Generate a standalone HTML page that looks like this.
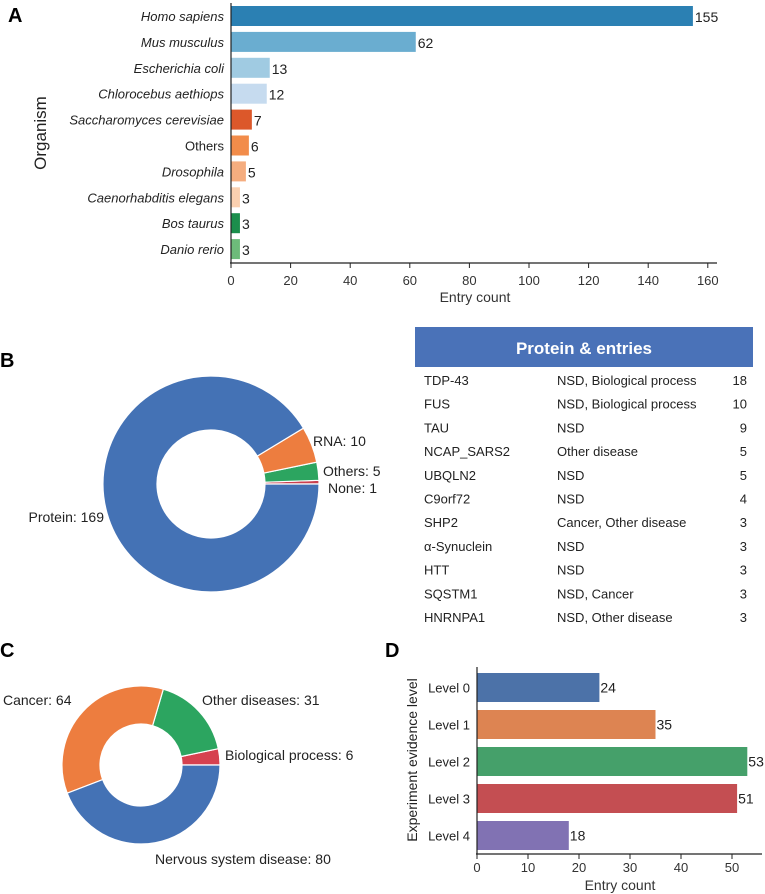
<!DOCTYPE html>
<html><head><meta charset="utf-8"><style>
body{margin:0;background:#fff;}
svg{display:block;font-family:"Liberation Sans",Arial,sans-serif;}
</style></head><body>
<svg id="s" width="765" height="894" viewBox="0 0 765 894" xmlns="http://www.w3.org/2000/svg">
<text x="8" y="22" font-size="20" font-weight="bold">A</text>
<text x="0" y="367" font-size="20" font-weight="bold">B</text>
<text x="0" y="657" font-size="20" font-weight="bold">C</text>
<text x="385" y="657" font-size="20" font-weight="bold">D</text>
<g id="ga"></g>
<g id="gb"></g>
<g id="gt"></g>
<g id="gc"></g>
<g id="gd"></g>
</svg>
<script>
const orgNames=["Homo sapiens","Mus musculus","Escherichia coli","Chlorocebus aethiops","Saccharomyces cerevisiae","Others","Drosophila","Caenorhabditis elegans","Bos taurus","Danio rerio"];
const orgValues=[155,62,13,12,7,6,5,3,3,3];
const orgTicks=[0,20,40,60,80,100,120,140,160];
const molNames=["None","Others","RNA","Protein"];
const molValues=[1,5,10,169];
const disNames=["Biological process","Other diseases","Cancer","Nervous system disease"];
const disValues=[6,31,64,80];
const tabNames=["TDP-43","FUS","TAU","NCAP_SARS2","UBQLN2","C9orf72","SHP2","α-Synuclein","HTT","SQSTM1","HNRNPA1"];
const tabDesc=["NSD, Biological process","NSD, Biological process","NSD","Other disease","NSD","NSD","Cancer, Other disease","NSD","NSD","NSD, Cancer","NSD, Other disease"];
const tabCounts=[18,10,9,5,5,4,3,3,3,3,3];
const levNames=["Level 0","Level 1","Level 2","Level 3","Level 4"];
const levValues=[24,35,53,51,18];
const levTicks=[0,10,20,30,40,50];

const NS="http://www.w3.org/2000/svg";
function mk(p,tag,a,txt){const e=document.createElementNS(NS,tag);for(const k in a)e.setAttribute(k,a[k]);if(txt!==undefined)e.textContent=txt;p.appendChild(e);return e;}

// Panel A
const ga=document.getElementById('ga');
const aCols=["#2b80b3","#6aadd0","#a0cbe2","#c6dbef","#dc582a","#f28c4a","#f5ad7f","#fbd0b0","#1b8e4c","#6dbb7a"];
const ax=v=>231+v*2.98, ay=i=>16+i*25.9;
orgNames.forEach((n,i)=>{
  const r=mk(ga,'rect',{x:ax(0),y:ay(i)-10,width:ax(orgValues[i])-ax(0),height:20,fill:aCols[i]});
  
  
  const t=mk(ga,'text',{x:ax(orgValues[i])+2,y:ay(i)+6,'font-size':14,fill:'#222'},orgValues[i]);
  
  
  const l=mk(ga,'text',{x:224,y:ay(i)+5,'font-size':13,'text-anchor':'end',fill:'#222','font-style':n==='Others'?'normal':'italic'},n);
  
  
});
mk(ga,'line',{x1:231,y1:3,x2:231,y2:263,stroke:'#222','stroke-width':1.2});
mk(ga,'line',{x1:230,y1:263,x2:717,y2:263,stroke:'#222','stroke-width':1.2});
orgTicks.forEach(v=>{
  mk(ga,'line',{x1:ax(v),y1:263,x2:ax(v),y2:268,stroke:'#222'});
  const t=mk(ga,'text',{x:ax(v),y:285,'font-size':13,'text-anchor':'middle',fill:'#333'},v);
  
  
});
let t=mk(ga,'text',{x:475,y:302,'font-size':14,'text-anchor':'middle',fill:'#333'},"Entry count");

t=mk(ga,'text',{x:0,y:0,'font-size':17,'text-anchor':'middle',fill:'#222',transform:'translate(46,133) rotate(-90)'},"Organism");


// donut helper
function donut(g,cx,cy,R,r,vals,cols){
  const tot=vals.reduce((a,b)=>a+b,0);let a0=0;
  vals.forEach((v,i)=>{
    const a1=a0+v/tot*2*Math.PI;
    const p=(rad,a)=>[cx+rad*Math.cos(a),cy-rad*Math.sin(a)];
    const [x1,y1]=p(R,a0),[x2,y2]=p(R,a1),[x3,y3]=p(r,a1),[x4,y4]=p(r,a0);
    const lg=(a1-a0)>Math.PI?1:0;
    const e=mk(g,'path',{d:`M${x1},${y1} A${R},${R} 0 ${lg} 0 ${x2},${y2} L${x3},${y3} A${r},${r} 0 ${lg} 1 ${x4},${y4} Z`,fill:cols[i],stroke:'#fff','stroke-width':1.2});
    
    
    a0=a1;
  });
}
const gb=document.getElementById('gb');
donut(gb,211,484,108,54,molValues,["#c9404f","#2ca560","#ed7d3f","#4472b5"]);
[["RNA: "+molValues[2],313,446,'start'],["Others: "+molValues[1],323,476,'start'],["None: "+molValues[0],328,493,'start'],["Protein: "+molValues[3],104,522,'end']].forEach(d=>{
  const e=mk(gb,'text',{x:d[1],y:d[2],'font-size':14,fill:'#222','text-anchor':d[3]},d[0]);
  
});

// Table
const gt=document.getElementById('gt');
let h=mk(gt,'rect',{x:415,y:327,width:338,height:40,fill:'#4a72b8'});

t=mk(gt,'text',{x:584,y:354,'font-size':17,'font-weight':'bold',fill:'#fff','text-anchor':'middle'},"Protein & entries");

tabNames.forEach((n,i)=>{
  const y=385+i*23.7;
  const a=mk(gt,'text',{x:424,y:y,'font-size':13,fill:'#222'},n);
  
  const b=mk(gt,'text',{x:557,y:y,'font-size':13,fill:'#222'},tabDesc[i]);
  
  const c=mk(gt,'text',{x:747,y:y,'font-size':13,fill:'#222','text-anchor':'end'},tabCounts[i]);
  
});

// Panel C
const gc=document.getElementById('gc');
donut(gc,141,765,79,41,disValues,["#d6414f","#2ca560","#ed7d3f","#4472b5"]);
[["Cancer: "+disValues[2],3,705,'start'],["Other diseases: "+disValues[1],202,705,'start'],["Biological process: "+disValues[0],225,760,'start'],["Nervous system disease: "+disValues[3],155,864,'start']].forEach(d=>{
  const e=mk(gc,'text',{x:d[1],y:d[2],'font-size':14,fill:'#222','text-anchor':d[3]},d[0]);
  
});

// Panel D
const gd=document.getElementById('gd');
const dCols=["#4c72a8","#dd8452","#45a06a","#c44e52","#8172b3"];
const dx=v=>477+v*5.1, dy=i=>687.5+i*37;
levNames.forEach((n,i)=>{
  const r=mk(gd,'rect',{x:dx(0),y:dy(i)-14.5,width:dx(levValues[i])-dx(0),height:29,fill:dCols[i]});
  
  
  const v=mk(gd,'text',{x:dx(levValues[i])+1,y:dy(i)+5,'font-size':14,fill:'#222'},levValues[i]);
  
  const l=mk(gd,'text',{x:470,y:dy(i)+5,'font-size':13,fill:'#222','text-anchor':'end'},n);
  
});
mk(gd,'line',{x1:477,y1:667,x2:477,y2:854,stroke:'#222','stroke-width':1.2});
mk(gd,'line',{x1:476,y1:854,x2:762,y2:854,stroke:'#222','stroke-width':1.2});
levTicks.forEach(v=>{
  mk(gd,'line',{x1:dx(v),y1:854,x2:dx(v),y2:859,stroke:'#222'});
  const e=mk(gd,'text',{x:dx(v),y:872,'font-size':13,'text-anchor':'middle',fill:'#333'},v);
  
});
t=mk(gd,'text',{x:620,y:890,'font-size':14,'text-anchor':'middle',fill:'#333'},"Entry count");

t=mk(gd,'text',{x:0,y:0,'font-size':14,'text-anchor':'middle',fill:'#222',transform:'translate(417,760) rotate(-90)'},"Experiment evidence level");

</script>
</body></html>
